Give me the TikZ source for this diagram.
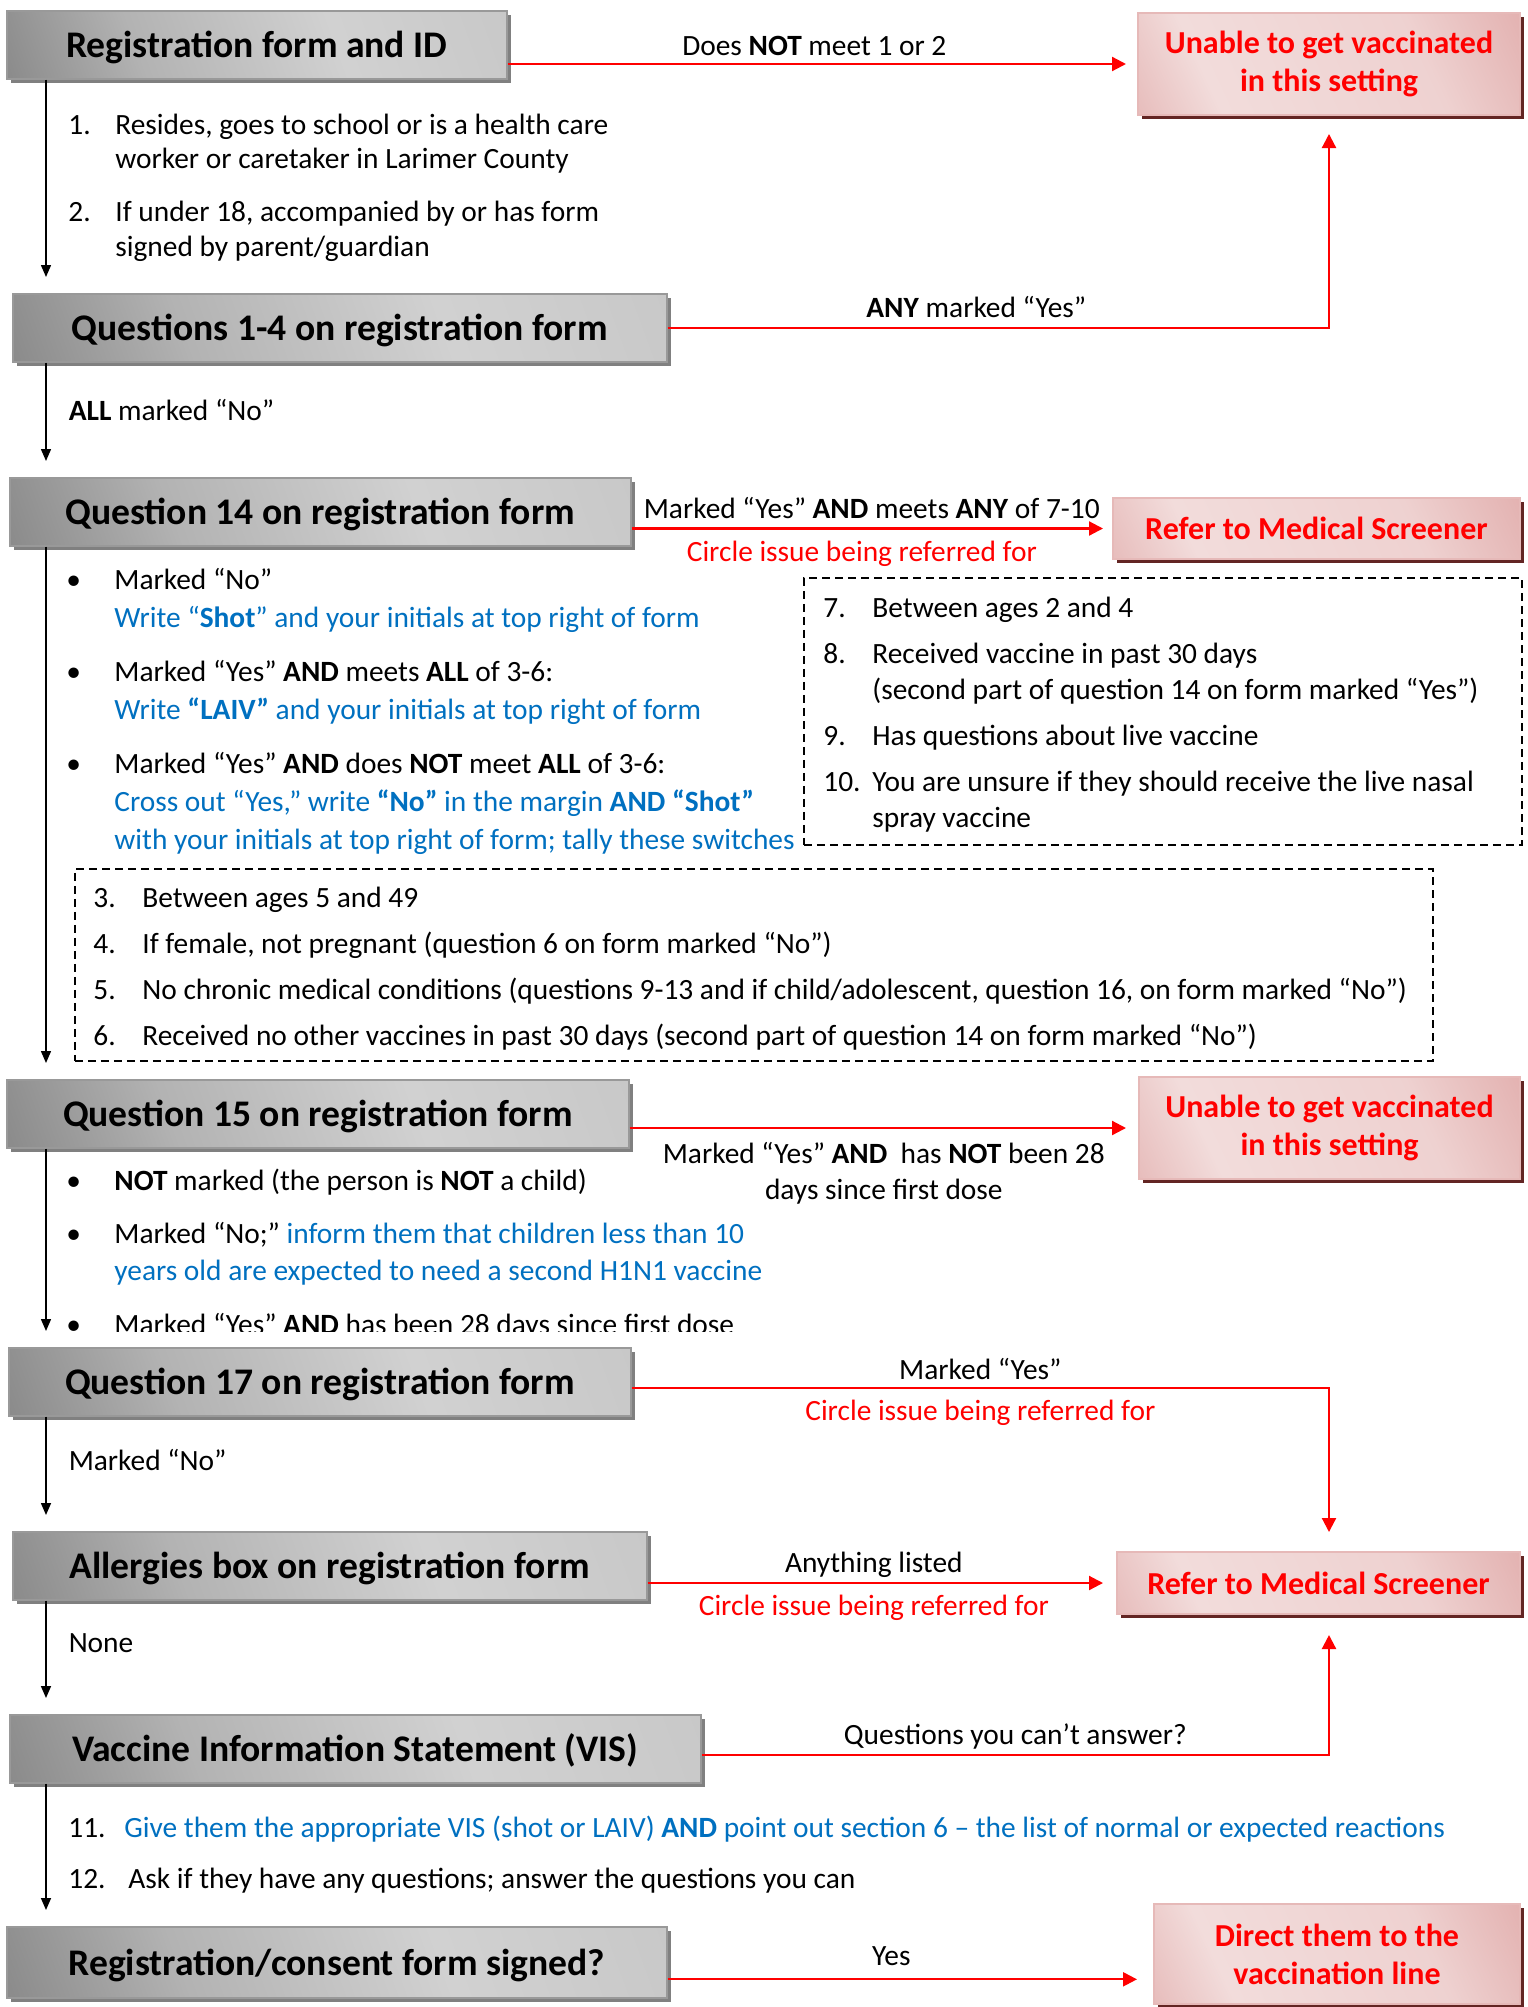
\documentclass[tikz,border=0pt]{standalone}
\usepackage{fontspec}
\setmainfont{Carlito}
\usetikzlibrary{arrows.meta,shadows}

\definecolor{vblue}{HTML}{0070C0}
\definecolor{vred}{HTML}{FF0000}
\definecolor{pinkdark}{HTML}{D99594}
\definecolor{pinklight}{HTML}{F2DCDB}
\definecolor{pinkrim}{HTML}{E6B9B8}
\definecolor{redshade}{HTML}{632523}

\pgfdeclarehorizontalshading{grayhdr}{100bp}{color(0bp)=(black!62); color(35bp)=(black!30); color(60bp)=(black!18); color(85bp)=(black!22); color(100bp)=(black!42)}
\pgfdeclarehorizontalshading{pinkbox}{100bp}{color(0bp)=(pinkdark); color(30bp)=(pinklight); color(65bp)=(pinklight!85!pinkdark); color(100bp)=(pinkdark)}

\begin{document}
\begin{tikzpicture}[x=0.5pt,y=-0.5pt]
\tikzstyle{header} = [rectangle, draw=black!40, line width=0.8pt, shading=grayhdr, shading angle=20,
anchor=north west, minimum height=34pt, text height=16pt, text depth=3pt,
font=\bfseries\fontsize{18.8}{22}\selectfont,
drop shadow={shadow xshift=2pt, shadow yshift=-2pt, fill=black!50, opacity=1}]
\tikzstyle{outcome} = [rectangle, draw=pinkrim, line width=1pt, shading=pinkbox, shading angle=25,
anchor=north west, text=vred, align=center, font=\bfseries\fontsize{16}{19}\selectfont,
drop shadow={shadow xshift=2pt, shadow yshift=-2pt, fill=redshade, opacity=1}]
\tikzstyle{dashbox} = [rectangle, draw, line width=0.8pt, dash pattern=on 4pt off 2.5pt, anchor=north west]
\tikzstyle{list} = [anchor=base west, inner sep=0pt]
\tikzstyle{lbl} = [inner sep=2pt, text height=13.75pt, text depth=2.5pt, font=\fontsize{14.7}{17.5}\selectfont]
\tikzstyle{lbltwo} = [inner sep=2pt, align=center, font=\fontsize{14.7}{18}\selectfont]
\tikzstyle{line} = [draw, line width=0.75pt, -{Triangle[length=6pt,width=5pt]}, shorten >=8pt]
\tikzstyle{redline} = [draw=vred, line width=1.1pt, -{Triangle[length=7pt,width=7pt]}]

\useasboundingbox (0,0) rectangle (1527,2007);

% left column
\node[header, minimum width=250pt] (regid) at (6,10) {Registration form and ID};
\node[header, minimum width=327pt] (q1to4) at (12,293) {Questions 1-4 on registration form};
\node[header, minimum width=310.5pt] (q14) at (9,477) {Question 14 on registration form};
\node[header, minimum width=311pt] (q15) at (6,1079) {Question 15 on registration form};
\node[header, minimum width=311pt] (q17) at (8,1347) {Question 17 on registration form};
\node[header, minimum width=317pt] (allergy) at (12,1531) {Allergies box on registration form};
\node[header, minimum width=345.5pt] (vis) at (9,1714) {Vaccine Information Statement (VIS)};
\node[header, minimum width=330pt, minimum height=35.5pt] (signed) at (6,1926) {Registration/consent form signed?};

% right column
\node[outcome, minimum width=191pt, minimum height=51pt] (nogo1) at (1137,12) {Unable to get vaccinated\\in this setting};
\node[outcome, minimum width=203.5pt, minimum height=30.5pt] (screen1) at (1112,497) {Refer to Medical Screener};
\node[outcome, minimum width=190.5pt, minimum height=51pt] (nogo2) at (1138,1076) {Unable to get vaccinated\\in this setting};
\node[outcome, minimum width=201.5pt, minimum height=31pt] (screen2) at (1116,1551) {Refer to Medical Screener};
\node[outcome, minimum width=183pt, minimum height=50pt] (vacline) at (1153,1903) {Direct them to the\\vaccination line};

% criteria lists
\node[list, font=\fontsize{14.7}{17.25}\selectfont] (idlist) at (68,134) {%
\begin{tabular}[t]{@{}p{23.5pt}@{}l@{}}
1. & Resides, goes to school or is a health care\\
 & worker or caretaker in Larimer County\\[9.25pt]
2. & If under 18, accompanied by or has form\\
 & signed by parent/guardian
\end{tabular}};

\node[list, font=\fontsize{14.7}{19}\selectfont] (q14list) at (66,589) {%
\begin{tabular}[t]{@{}p{24pt}@{}l@{}}
\textbullet & Marked “No”\\
 & \color{vblue}Write “\textbf{Shot}” and your initials at top right of form\\[8pt]
\textbullet & Marked “Yes” \textbf{AND} meets \textbf{ALL} of 3-6:\\
 & \color{vblue}Write \textbf{“LAIV”} and your initials at top right of form\\[8pt]
\textbullet & Marked “Yes” \textbf{AND} does \textbf{NOT} meet \textbf{ALL} of 3-6:\\
 & \color{vblue}Cross out “Yes,” write \textbf{“No”} in the margin \textbf{AND “Shot”}\\
 & \color{vblue}with your initials at top right of form; tally these switches
\end{tabular}};

\node[dashbox, minimum width=359pt, minimum height=133.5pt] (crit7) at (803,577) {};
\node[list, font=\fontsize{14.7}{18}\selectfont] (crit7list) at (823,617) {%
\begin{tabular}[t]{@{}p{24.5pt}@{}l@{}}
7. & Between ages 2 and 4\\[5pt]
8. & Received vaccine in past 30 days\\
 & (second part of question 14 on form marked “Yes”)\\[5pt]
9. & Has questions about live vaccine\\[5pt]
10. & You are unsure if they should receive the live nasal\\
 & spray vaccine
\end{tabular}};

\node[dashbox, minimum width=679pt, minimum height=96pt] (crit3) at (74,868) {};
\node[list, font=\fontsize{14.7}{18}\selectfont] (crit3list) at (93,907) {%
\begin{tabular}[t]{@{}p{24.5pt}@{}l@{}}
3. & Between ages 5 and 49\\[5pt]
4. & If female, not pregnant (question 6 on form marked “No”)\\[5pt]
5. & No chronic medical conditions (questions 9-13 and if child/adolescent, question 16, on form marked “No”)\\[5pt]
6. & Received no other vaccines in past 30 days (second part of question 14 on form marked “No”)
\end{tabular}};

\begin{scope}
\clip (40,1150) rectangle (900,1331);
\node[list, font=\fontsize{14.7}{18.5}\selectfont] (q15list) at (66,1190) {%
\begin{tabular}[t]{@{}p{24pt}@{}l@{}}
\textbullet & \textbf{NOT} marked (the person is \textbf{NOT} a child)\\[8pt]
\textbullet & Marked “No;” {\color{vblue}inform them that children less than 10}\\
 & \color{vblue}years old are expected to need a second H1N1 vaccine\\[8.5pt]
\textbullet & Marked “Yes” \textbf{AND} has been 28 days since first dose
\end{tabular}};
\end{scope}

\node[list, font=\fontsize{14.7}{18}\selectfont] (vislist) at (68,1837) {%
\begin{tabular}[t]{@{}p{28pt}@{}l@{}}
11. & \color{vblue}Give them the appropriate VIS (shot or LAIV) \textbf{AND} point out section 6 – the list of normal or expected reactions\\[7.5pt]
12. & \hspace{2pt}Ask if they have any questions; answer the questions you can
\end{tabular}};

% main flow
\coordinate (spine) at (46,0);
\path[line] (regid.south -| spine) -- (q1to4.north -| spine);
\path[line] (q1to4.south -| spine) -- node[lbl, right, pos=0.41, xshift=9pt] {\textbf{ALL} marked “No”} (q14.north -| spine);
\path[line] (q14.south -| spine) -- (q15.north -| spine);
\path[line] (q15.south -| spine) -- (q17.north -| spine);
\path[line] (q17.south -| spine) -- node[lbl, right, pos=0.37, xshift=9pt] {Marked “No”} (allergy.north -| spine);
\path[line] (allergy.south -| spine) -- node[lbl, right, pos=0.36, xshift=9pt] {None} (vis.north -| spine);
\path[line] (vis.south -| spine) -- (signed.north -| spine);

% exits
\path[redline, shorten >=5.5pt] (regid.east |- nogo1.west) -- node[lbl, above, xshift=-4pt, yshift=-1pt] {Does \textbf{NOT} meet 1 or 2} (nogo1.west);
\path[redline, shorten >=9pt] (q1to4.east) -- node[lbl, above, xshift=-11pt] {\textbf{ANY} marked “Yes”} (q1to4.east -| nogo1.south) -- (nogo1.south);
\path[redline, shorten >=4.5pt] (q14.east |- screen1.west) -- node[lbl, above] {Marked “Yes” \textbf{AND} meets \textbf{ANY} of 7-10} node[lbl, below, text=vred, xshift=-5pt] {Circle issue being referred for} (screen1.west);
\path[redline, shorten >=6pt] (q15.east |- nogo2.west) -- node[lbltwo, below, yshift=-4.5pt] {Marked “Yes” \textbf{AND}\ \ has \textbf{NOT} been 28\\days since first dose} (nogo2.west);
\path[redline, shorten >=9.5pt] ([yshift=-3pt]q17.east) -- node[lbl, above, yshift=-1pt] {Marked “Yes”} node[lbl, below, text=vred] {Circle issue being referred for} ([yshift=-3pt]q17.east -| nogo1.south) -- (nogo1.south |- screen2.north);
\path[redline, shorten >=6.5pt] (allergy.east |- screen2.west) -- node[lbl, above, xshift=-4pt] {Anything listed} node[lbl, below, text=vred, xshift=-4pt] {Circle issue being referred for} (screen2.west);
\path[redline, shorten >=10pt] ([yshift=-3pt]vis.east) -- node[lbl, above] {Questions you can’t answer?} ([yshift=-3pt]vis.east -| nogo1.south) -- (nogo1.south |- screen2.south);
\path[redline, shorten >=8pt] ([yshift=-8.5pt]signed.east) -- node[lbl, above=2pt, xshift=-9.5pt] {Yes} ([yshift=-8.5pt]signed.east -| vacline.west);

\end{tikzpicture}
\end{document}
